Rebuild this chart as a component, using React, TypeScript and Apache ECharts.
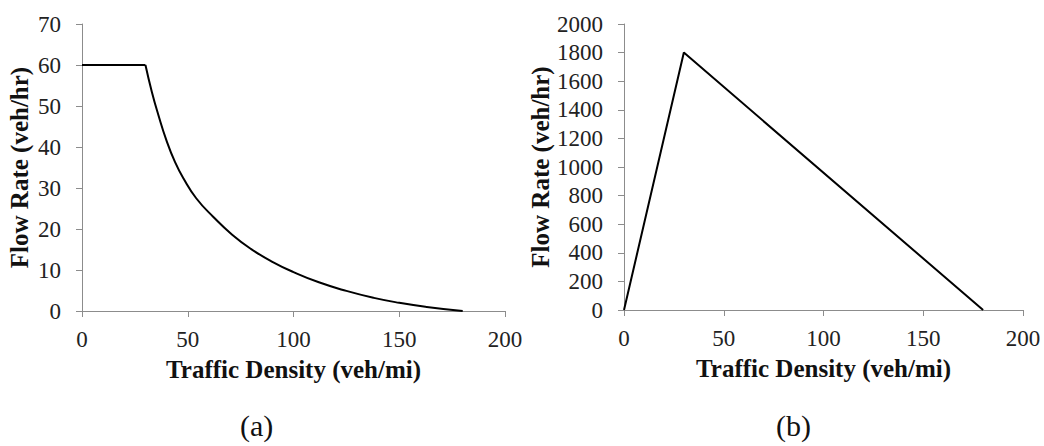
import React, { useEffect, useRef } from "react";
import * as echarts from "echarts";

const densityA = [0, 30, 33, 36, 40, 44, 48, 54, 62, 71, 80, 90, 100, 112, 125, 138, 150, 163, 180];
const flowA = [60, 60, 53.5, 48, 41.5, 36.3, 32.3, 27.5, 23.0, 18.6, 15.1, 12.0, 9.5, 7.0, 4.9, 3.2, 2.0, 1.0, 0];

const densityB = [0, 30, 180];
const flowB = [0, 1800, 0];

const xTitle = "Traffic Density (veh/mi)";
const yTitle = "Flow Rate (veh/hr)";
const panelLabels = ["(a)", "(b)"];

const FONT = "Liberation Serif";
const AXIS_GRAY = "#8c8c8c";

export default function App() {
  const ref = useRef<HTMLDivElement>(null);
  useEffect(() => {
    if (!ref.current) return;
    const chart = echarts.init(ref.current, undefined, { renderer: "svg" });
    const xAxisCommon = (gridIndex: number) => ({
      type: "value" as const,
      gridIndex,
      min: 0,
      max: 200,
      interval: 50,
      splitLine: { show: false },
      axisLine: { show: true, lineStyle: { color: AXIS_GRAY, width: 1 } },
      axisTick: { show: true, length: 6, lineStyle: { color: AXIS_GRAY } },
      axisLabel: { color: "#222", fontFamily: FONT, fontSize: 23, margin: 17 },
      name: xTitle,
      nameLocation: "middle" as const,
      nameGap: 46,
      nameTextStyle: { color: "#111", fontFamily: FONT, fontSize: 25, fontWeight: "bold" as const },
    });
    const yAxisCommon = (gridIndex: number, max: number, interval: number, gap: number) => ({
      type: "value" as const,
      gridIndex,
      min: 0,
      max,
      interval,
      splitLine: { show: false },
      axisLine: { show: true, lineStyle: { color: AXIS_GRAY, width: 1 } },
      axisTick: { show: true, length: 6, lineStyle: { color: AXIS_GRAY } },
      axisLabel: {
        color: "#222",
        fontFamily: FONT,
        fontSize: 23,
        margin: 21,
        formatter: (v: number) => String(v),
      },
      name: yTitle,
      nameLocation: "middle" as const,
      nameGap: gap,
      nameTextStyle: { color: "#111", fontFamily: FONT, fontSize: 25, fontWeight: "bold" as const },
    });
    const curve = densityA.map((d, i) => [d, flowA[i]]);
    chart.setOption({
      animation: false,
      backgroundColor: "#fff",
      grid: [
        { left: 82, top: 24, width: 423, height: 287 },
        { left: 624, top: 24, width: 399, height: 286 },
      ],
      xAxis: [xAxisCommon(0), xAxisCommon(1)],
      yAxis: [yAxisCommon(0, 70, 10, 50), yAxisCommon(1, 2000, 200, 70)],
      graphic: [
        {
          type: "text",
          left: 257 - 17,
          top: 410,
          style: { text: panelLabels[0], fontFamily: FONT, fontSize: 30, fill: "#111" },
        },
        {
          type: "text",
          left: 793 - 17,
          top: 410,
          style: { text: panelLabels[1], fontFamily: FONT, fontSize: 30, fill: "#111" },
        },
      ],
      series: [
        {
          type: "line",
          xAxisIndex: 0,
          yAxisIndex: 0,
          data: curve.slice(0, 2),
          showSymbol: false,
          lineStyle: { color: "#000", width: 2 },
        },
        {
          type: "line",
          xAxisIndex: 0,
          yAxisIndex: 0,
          data: curve.slice(1),
          smooth: 0.5,
          showSymbol: false,
          lineStyle: { color: "#000", width: 2 },
        },
        {
          type: "line",
          xAxisIndex: 1,
          yAxisIndex: 1,
          data: densityB.map((d, i) => [d, flowB[i]]),
          showSymbol: false,
          lineStyle: { color: "#000", width: 2 },
        },
      ],
    });
    return () => chart.dispose();
  }, []);
  return (
    <div
      ref={ref}
      style={{ position: "absolute", left: 0, top: 0, width: 1044, height: 446 }}
    />
  );
}
